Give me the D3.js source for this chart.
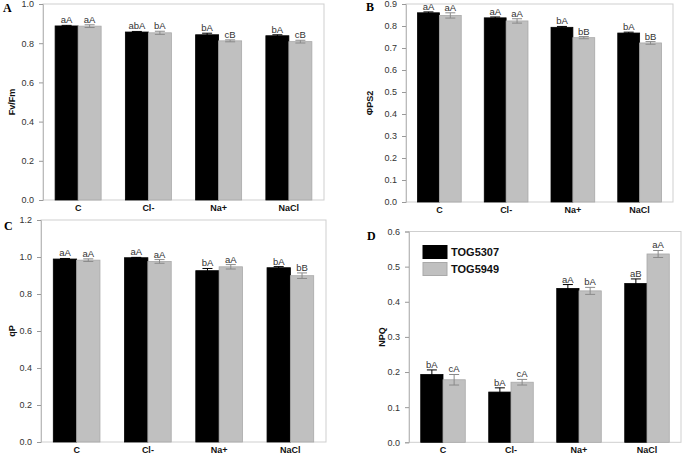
<!DOCTYPE html>
<html>
<head>
<meta charset="utf-8">
<script src="https://d3js.org/d3.v7.min.js"></script>
<style>
  body { margin: 0; background: #fff; }
  svg { display: block; font-family: Arial, "Liberation Sans", sans-serif; }
  .tick text { fill: #333; font-size: 9px; }
  .xlab { font-size: 9px; font-weight: bold; fill: #111; }
  .ylab { font-size: 9px; font-weight: bold; fill: #111; }
  .letter { font-size: 9.5px; fill: #333; }
  .panel-id { font-family: "Liberation Serif", "DejaVu Serif", serif; font-weight: bold; font-size: 12px; }
</style>
</head>
<body>
<div id="chart"></div>
<script>
var categories = ["C", "Cl-", "Na+", "NaCl"];
var series = ["TOG5307", "TOG5949"];

// panel A  Fv/Fm
var fvfm1 = [0.888, 0.857, 0.843, 0.838];
var fvfm2 = [0.887, 0.853, 0.812, 0.808];
var fvfmErr1 = [0.003, 0.003, 0.008, 0.005];
var fvfmErr2 = [0.007, 0.008, 0.005, 0.007];
var fvfmLetters1 = ["aA", "abA", "bA", "bA"];
var fvfmLetters2 = ["aA", "bA", "cB", "cB"];

// panel B  PhiPS2
var phi1 = [0.860, 0.837, 0.794, 0.768];
var phi2 = [0.848, 0.823, 0.747, 0.723];
var phiErr1 = [0.004, 0.004, 0.004, 0.004];
var phiErr2 = [0.012, 0.010, 0.005, 0.006];
var phiLetters1 = ["aA", "aA", "bA", "bA"];
var phiLetters2 = ["aA", "aA", "bB", "bB"];

// panel C  qP
var qp1 = [0.989, 0.996, 0.926, 0.942];
var qp2 = [0.983, 0.976, 0.947, 0.899];
var qpErr1 = [0.003, 0.002, 0.012, 0.006];
var qpErr2 = [0.007, 0.010, 0.012, 0.015];
var qpLetters1 = ["aA", "aA", "bA", "bA"];
var qpLetters2 = ["aA", "aA", "aA", "bB"];

// panel D  NPQ
var npq1 = [0.193, 0.143, 0.438, 0.452];
var npq2 = [0.178, 0.171, 0.431, 0.536];
var npqErr1 = [0.013, 0.012, 0.011, 0.013];
var npqErr2 = [0.015, 0.008, 0.010, 0.010];
var npqLetters1 = ["bA", "bA", "aA", "aB"];
var npqLetters2 = ["cA", "cA", "bA", "aA"];

var COLORS = ["#000000", "#c0c0c0"];
var STROKES = ["#000000", "#a9a9a9"];
var ERR_COLORS = ["#000000", "#8a8a8a"];

var svg = d3.select("#chart")
  .append("svg")
  .attr("width", 685)
  .attr("height", 454);

function drawPanel(p) {
  var g = svg.append("g");

  var x0 = d3.scaleBand()
    .domain(categories)
    .range([p.left, p.right])
    .paddingInner(0.345)
    .paddingOuter(0.1725);

  var x1 = d3.scaleBand()
    .domain([0, 1])
    .range([0, x0.bandwidth()]);

  var y = d3.scaleLinear()
    .domain([0, p.ymax])
    .range([p.bottom, p.top]);

  // frame
  g.append("rect")
    .attr("x", p.left)
    .attr("y", p.top)
    .attr("width", p.right - p.left)
    .attr("height", p.bottom - p.top)
    .attr("fill", "none")
    .attr("stroke", "#cfcfcf")
    .attr("stroke-width", 1);

  var yAxis = g.append("g")
    .attr("transform", "translate(" + p.left + ",0)")
    .call(d3.axisLeft(y)
      .tickValues(d3.range(0, p.ymax + p.step / 2, p.step))
      .tickFormat(d3.format(".1f"))
      .tickSize(4)
      .tickPadding(5));
  yAxis.select(".domain").attr("stroke", "#bbb");
  yAxis.selectAll(".tick line").attr("stroke", "#999");

  var rows = [];
  categories.forEach(function(c, i) {
    rows.push({cat: c, s: 0, v: p.vals[0][i], e: p.errs[0][i], t: p.letters[0][i]});
    rows.push({cat: c, s: 1, v: p.vals[1][i], e: p.errs[1][i], t: p.letters[1][i]});
  });

  var bx = function(d) { return x0(d.cat) + x1(d.s); };
  var cx = function(d) { return bx(d) + x1.bandwidth() / 2; };

  g.selectAll("rect.bar")
    .data(rows)
    .enter()
    .append("rect")
    .attr("class", "bar")
    .attr("x", bx)
    .attr("width", x1.bandwidth())
    .attr("y", function(d) { return y(d.v); })
    .attr("height", function(d) { return p.bottom - y(d.v); })
    .attr("fill", function(d) { return COLORS[d.s]; })
    .attr("stroke", function(d) { return STROKES[d.s]; })
    .attr("stroke-width", 0.8);

  // error bars
  var err = g.selectAll("g.err")
    .data(rows)
    .enter()
    .append("g")
    .attr("class", "err")
    .attr("stroke", function(d) { return ERR_COLORS[d.s]; })
    .attr("stroke-width", 1);
  err.append("line")
    .attr("x1", cx).attr("x2", cx)
    .attr("y1", function(d) { return y(d.v - d.e); })
    .attr("y2", function(d) { return y(d.v + d.e); });
  err.append("line")
    .attr("x1", function(d) { return cx(d) - 5; })
    .attr("x2", function(d) { return cx(d) + 5; })
    .attr("y1", function(d) { return y(d.v + d.e); })
    .attr("y2", function(d) { return y(d.v + d.e); });
  err.append("line")
    .attr("x1", function(d) { return cx(d) - 5; })
    .attr("x2", function(d) { return cx(d) + 5; })
    .attr("y1", function(d) { return y(d.v - d.e); })
    .attr("y2", function(d) { return y(d.v - d.e); });

  g.selectAll("text.letter")
    .data(rows)
    .enter()
    .append("text")
    .attr("class", "letter")
    .attr("x", cx)
    .attr("y", function(d) { return y(d.v + d.e) - 2; })
    .attr("text-anchor", "middle")
    .text(function(d) { return d.t; });

  g.selectAll("text.xlab")
    .data(categories)
    .enter()
    .append("text")
    .attr("class", "xlab")
    .attr("x", function(d) { return x0(d) + x0.bandwidth() / 2; })
    .attr("y", p.bottom + 11)
    .attr("text-anchor", "middle")
    .text(function(d) { return d; });

  g.append("text")
    .attr("class", "ylab")
    .attr("transform", "translate(" + p.ylabX + "," + ((p.top + p.bottom) / 2) + ") rotate(-90)")
    .attr("text-anchor", "middle")
    .attr("dy", "0.35em")
    .text(p.ylabel);

  g.append("text")
    .attr("class", "panel-id")
    .attr("x", p.idX)
    .attr("y", p.idY)
    .text(p.id);
}

drawPanel({id: "A", idX: 3, idY: 12, left: 43, right: 324, top: 4, bottom: 200,
  ymax: 1.0, step: 0.2, ylabel: "Fv/Fm", ylabX: 12,
  vals: [fvfm1, fvfm2], errs: [fvfmErr1, fvfmErr2], letters: [fvfmLetters1, fvfmLetters2]});

drawPanel({id: "B", idX: 366, idY: 11, left: 406, right: 673, top: 4, bottom: 202,
  ymax: 0.9, step: 0.1, ylabel: "ΦPS2", ylabX: 370,
  vals: [phi1, phi2], errs: [phiErr1, phiErr2], letters: [phiLetters1, phiLetters2]});

drawPanel({id: "C", idX: 4, idY: 230, left: 41, right: 326, top: 220, bottom: 442,
  ymax: 1.2, step: 0.2, ylabel: "qP", ylabX: 12,
  vals: [qp1, qp2], errs: [qpErr1, qpErr2], letters: [qpLetters1, qpLetters2]});

drawPanel({id: "D", idX: 367, idY: 240, left: 409, right: 681, top: 231.5, bottom: 442.3,
  ymax: 0.6, step: 0.1, ylabel: "NPQ", ylabX: 382,
  vals: [npq1, npq2], errs: [npqErr1, npqErr2], letters: [npqLetters1, npqLetters2]});

// legend in panel D
var legend = svg.append("g")
  .selectAll("g")
  .data(series)
  .enter()
  .append("g")
  .attr("transform", function(d, i) { return "translate(423," + (245.5 + i * 17) + ")"; });
legend.append("rect")
  .attr("width", 24)
  .attr("height", 13)
  .attr("fill", function(d, i) { return COLORS[i]; })
  .attr("stroke", function(d, i) { return STROKES[i]; });
legend.append("text")
  .attr("x", 28)
  .attr("y", 6.5)
  .attr("dy", "0.35em")
  .style("font-size", "11px")
  .style("font-weight", "bold")
  .style("fill", "#111")
  .text(function(d) { return d; });
</script>
</body>
</html>
